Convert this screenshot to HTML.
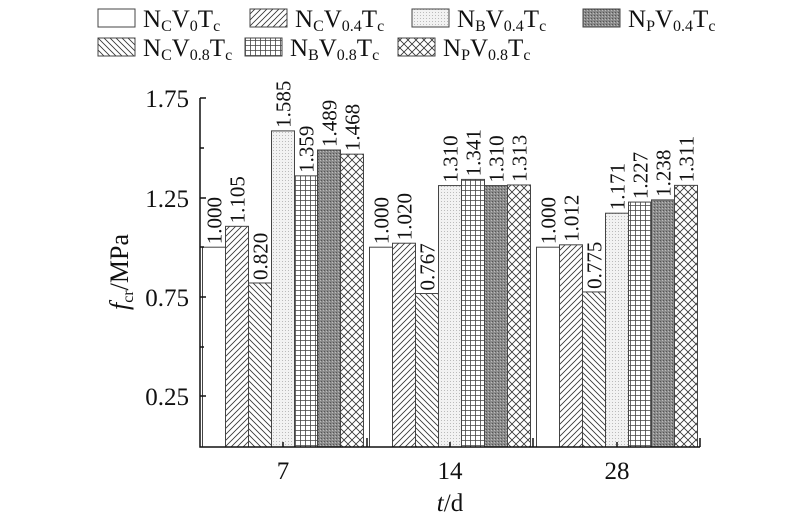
<!DOCTYPE html>
<html><head><style>body{margin:0;background:#fff}svg{display:block}</style></head><body>
<svg width="800" height="523" xmlns="http://www.w3.org/2000/svg" font-family="Liberation Serif, serif">
<defs>
<pattern id="p1" width="6" height="6" patternUnits="userSpaceOnUse"><rect width="6" height="6" fill="#fff"/><path d="M-1,7 L7,-1 M-1,1 L1,-1 M5,7 L7,5" stroke="#333" stroke-width="0.8"/></pattern>
<pattern id="p2" width="6" height="6" patternUnits="userSpaceOnUse"><rect width="6" height="6" fill="#fff"/><path d="M-1,-1 L7,7 M5,-1 L7,1 M-1,5 L1,7" stroke="#333" stroke-width="0.8"/></pattern>
<pattern id="p3" width="3" height="3" patternUnits="userSpaceOnUse"><rect width="3" height="3" fill="#f2f2f2"/><rect width="1" height="1" fill="#bbb"/></pattern>
<pattern id="p4" width="3" height="3" patternUnits="userSpaceOnUse"><rect width="3" height="3" fill="#8a8a8a"/><rect width="1" height="1" fill="#555"/><rect x="2" y="1" width="1" height="1" fill="#bbb"/></pattern>
<pattern id="p5" width="5" height="5" patternUnits="userSpaceOnUse"><rect width="5" height="5" fill="#fff"/><path d="M0,0.5 H5 M0.5,0 V5" stroke="#444" stroke-width="0.8"/></pattern>
<pattern id="p6" width="8" height="8" patternUnits="userSpaceOnUse"><rect width="8" height="8" fill="#fff"/><path d="M0,0 L8,8 M8,0 L0,8" stroke="#333" stroke-width="0.8"/></pattern>
</defs>
<g stroke="#444" stroke-width="1">
<rect x="98" y="9" width="37" height="18" fill="#fff"/>
<rect x="250" y="9" width="37" height="18" fill="url(#p1)"/>
<rect x="412" y="9" width="37" height="18" fill="url(#p3)"/>
<rect x="583" y="9" width="37" height="18" fill="url(#p4)"/>
<rect x="98" y="38" width="37" height="18" fill="url(#p2)"/>
<rect x="245" y="38" width="37" height="18" fill="url(#p5)"/>
<rect x="398" y="38" width="37" height="18" fill="url(#p6)"/>
</g>
<g font-size="25" fill="#111">
<text x="143" y="27">N<tspan font-size="16" dy="4">C</tspan><tspan dy="-4">V</tspan><tspan font-size="16" dy="4">0</tspan><tspan dy="-4">T</tspan><tspan font-size="16" dy="4">c</tspan></text>
<text x="295" y="27">N<tspan font-size="16" dy="4">C</tspan><tspan dy="-4">V</tspan><tspan font-size="16" dy="4">0.4</tspan><tspan dy="-4">T</tspan><tspan font-size="16" dy="4">c</tspan></text>
<text x="457" y="27">N<tspan font-size="16" dy="4">B</tspan><tspan dy="-4">V</tspan><tspan font-size="16" dy="4">0.4</tspan><tspan dy="-4">T</tspan><tspan font-size="16" dy="4">c</tspan></text>
<text x="628" y="27">N<tspan font-size="16" dy="4">P</tspan><tspan dy="-4">V</tspan><tspan font-size="16" dy="4">0.4</tspan><tspan dy="-4">T</tspan><tspan font-size="16" dy="4">c</tspan></text>
<text x="143" y="56">N<tspan font-size="16" dy="4">C</tspan><tspan dy="-4">V</tspan><tspan font-size="16" dy="4">0.8</tspan><tspan dy="-4">T</tspan><tspan font-size="16" dy="4">c</tspan></text>
<text x="290" y="56">N<tspan font-size="16" dy="4">B</tspan><tspan dy="-4">V</tspan><tspan font-size="16" dy="4">0.8</tspan><tspan dy="-4">T</tspan><tspan font-size="16" dy="4">c</tspan></text>
<text x="443" y="56">N<tspan font-size="16" dy="4">P</tspan><tspan dy="-4">V</tspan><tspan font-size="16" dy="4">0.8</tspan><tspan dy="-4">T</tspan><tspan font-size="16" dy="4">c</tspan></text>
</g>
<g id="bars" stroke="#444" stroke-width="1"></g>
<g id="lbls" font-size="21" fill="#111"></g>
<g stroke="#111" stroke-width="1.5" fill="none">
<path d="M200,98 V447 H700"/>
<path d="M200,98 H206 M200,148 H204 M200,198 H206 M200,247 H204 M200,297 H206 M200,347 H204 M200,396 H206"/>
<path d="M283,447 V442 M450,447 V442 M617,447 V442 M367,447 V438 M533,447 V438 M700,447 V438"/>
</g>
<g font-size="25" fill="#111" text-anchor="end">
<text x="189" y="107">1.75</text><text x="189" y="207">1.25</text><text x="189" y="306">0.75</text><text x="189" y="405">0.25</text>
</g>
<g font-size="25" fill="#111" text-anchor="middle">
<text x="283" y="479">7</text><text x="450" y="479">14</text><text x="617" y="479">28</text>
<text x="450" y="511"><tspan font-style="italic">t</tspan>/d</text>
</g>
<text transform="translate(128,272) rotate(-90)" font-size="26" fill="#111" text-anchor="middle"><tspan font-style="italic">f</tspan><tspan font-size="16" dy="5">cr</tspan><tspan dy="-5">/MPa</tspan></text>
<script>
var d=[[1.000,1.105,0.820,1.585,1.359,1.489,1.468],[1.000,1.020,0.767,1.310,1.341,1.310,1.313],[1.000,1.012,0.775,1.171,1.227,1.238,1.311]];
var f=['#fff','url(#p1)','url(#p2)','url(#p3)','url(#p5)','url(#p4)','url(#p6)'];
var ns='http://www.w3.org/2000/svg',B=document.getElementById('bars'),L=document.getElementById('lbls');
var c=[283,450,617];
for(var g=0;g<3;g++)for(var i=0;i<7;i++){var x=c[g]-80.5+i*23,v=d[g][i],y=446-v*198.8;
var r=document.createElementNS(ns,'rect');r.setAttribute('x',x);r.setAttribute('y',y);r.setAttribute('width',23);r.setAttribute('height',447-y);r.setAttribute('fill',f[i]);B.appendChild(r);
var t=document.createElementNS(ns,'text');t.setAttribute('transform','translate('+(x+19)+','+(y-3)+') rotate(-90)');t.textContent=v.toFixed(3);L.appendChild(t);}
</script>
</svg>
</body></html>
